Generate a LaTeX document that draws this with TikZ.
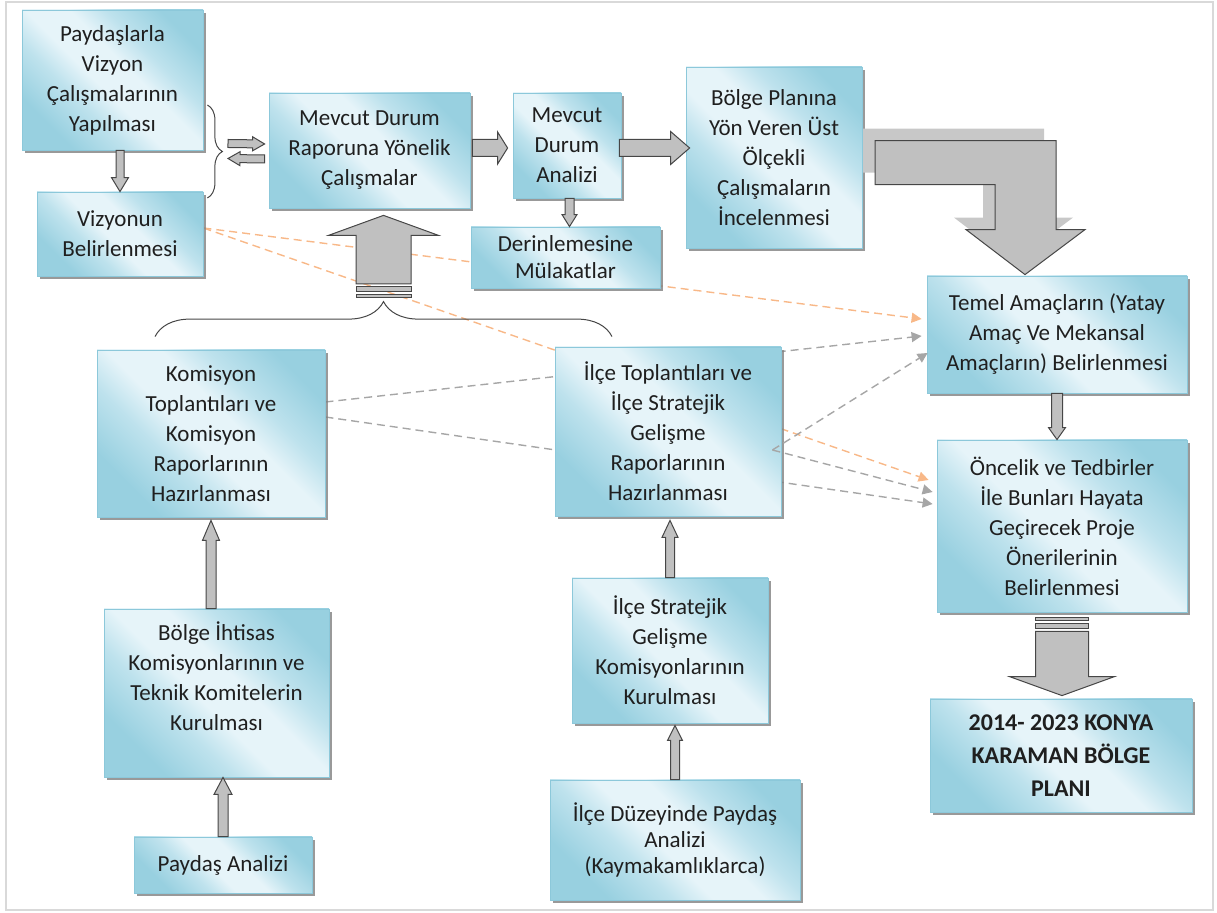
\documentclass[tikz,border=0pt]{standalone}
\usepackage{fontspec}
\setmainfont{Carlito}
\usetikzlibrary{calc,arrows.meta,shadows,decorations.pathreplacing}

\definecolor{boxdark}{RGB}{152,208,224}
\definecolor{boxmid}{RGB}{190,226,237}
\definecolor{boxlight}{RGB}{230,244,249}
\definecolor{boxline}{RGB}{140,200,218}
\definecolor{arrfill}{RGB}{192,192,192}
\definecolor{arrshade}{RGB}{200,200,200}
\definecolor{arrline}{RGB}{70,70,70}
\definecolor{dashorange}{RGB}{248,184,136}
\definecolor{dashgray}{RGB}{166,166,166}
\definecolor{framegray}{RGB}{217,217,217}

\pgfdeclarehorizontalshading{boxshade}{100bp}{color(0bp)=(boxdark); color(26bp)=(boxdark);
  color(38bp)=(boxmid); color(46bp)=(boxlight); color(56bp)=(boxlight); color(64bp)=(boxmid);
  color(76bp)=(boxdark); color(100bp)=(boxdark)}

\pgfdeclarelayer{bg}
\pgfsetlayers{bg,main}

% block arrow: from, to, shaft half width, head half width, head length
\newcommand{\blockarr}[5]{%
  \draw[blockarrow] let \p1=(#1), \p2=(#2),
    \n1={atan2(\y2-\y1,\x2-\x1)}, \n2={veclen(\x2-\x1,\y2-\y1)} in
    ($(\p1)+({\n1+90}:#3)$) -- ++(\n1:{\n2-#5}) -- ++({\n1+90}:{#4-#3})
    -- (\p2) -- ($(\p2)+({\n1+180}:#5)+({\n1-90}:#4)$) -- ++({\n1+90}:{#4-#3})
    -- ($(\p1)+({\n1-90}:#3)$) -- cycle;}
% the two bars behind a striped arrow: tail, half width, side (1 below, -1 above)
\newcommand{\tailbars}[3]{%
  \draw[blockarrow] ($(#1)+(-#2,#3*3)$) rectangle ($(#1)+(#2,#3*8)$);
  \draw[blockarrow] ($(#1)+(-#2,#3*11)$) rectangle ($(#1)+(#2,#3*14)$);}

\begin{document}
\begin{tikzpicture}[x=0.5pt, y=-0.5pt,
  box/.style={draw=boxline, line width=0.4pt, shading=boxshade, shading angle=45,
    drop shadow={shadow xshift=1.5pt, shadow yshift=-1.5pt, fill=black!50, opacity=0.8},
    align=center, text=black!88, font=\fontsize{11.5}{15}\selectfont, inner sep=2pt},
  sz/.style 2 args={minimum width=#1*0.5pt, minimum height=#2*0.5pt},
  blockarrow/.style={draw=arrline, line width=0.5pt, fill=arrfill},
  lightdash/.style={dash pattern=on 4pt off 2.5pt, line width=0.7pt},
  orangearr/.style={lightdash, draw=dashorange, -{Triangle[length=5pt,width=5pt]}},
  grayarr/.style={lightdash, draw=dashgray, -{Triangle[length=5pt,width=5pt]}}]
  \tikzset{bracket/.style={decorate, decoration={brace, amplitude=#1}, draw=arrline, line width=0.5pt}}
  \useasboundingbox (0,0) rectangle (1217,913);
  \draw[framegray, line width=0.75pt] (6,2) rectangle (1213,910);

  \node[box, sz={181}{140}] (vizyon) at (112.5,80) {Paydaşlarla\\Vizyon\\Çalışmalarının\\Yapılması};
  \node[box, sz={166}{84}] (belirle) at (120,234) {Vizyonun\\Belirlenmesi};
  \node[box, sz={201}{115}] (rapor) at (369.5,150.5) {Mevcut Durum\\Raporuna Yönelik\\Çalışmalar};
  \node[box, sz={108}{105}] (analiz) at (567,145.5) {Mevcut\\Durum\\Analizi};
  \node[box, sz={189}{61}, font=\fontsize{11.5}{13.5}\selectfont] (mulakat) at (565.5,257.5) {Derinlemesine\\Mülakatlar};
  \node[box, sz={176}{181}] (ustolcek) at (774,157.5) {Bölge Planına\\Yön Veren Üst\\Ölçekli\\Çalışmaların\\İncelenmesi};
  \node[box, sz={260}{117}] (temel) at (1057,334.5) {Temel Amaçların (Yatay\\Amaç Ve Mekansal\\Amaçların) Belirlenmesi};
  \node[box, sz={250}{172}] (oncelik) at (1062,526) {Öncelik ve Tedbirler\\İle Bunları Hayata\\Geçirecek Proje\\Önerilerinin\\Belirlenmesi};
  \node[box, sz={262}{113}, font=\fontsize{12}{16.5}\selectfont\bfseries] (plan) at (1061,755.5) {2014- 2023 KONYA\\KARAMAN BÖLGE\\PLANI};
  \node[box, sz={228}{167}] (komisyon) at (211,433.5) {Komisyon\\Toplantıları ve\\Komisyon\\Raporlarının\\Hazırlanması};
  \node[box, sz={226}{169}] (ilcetop) at (668,431.5) {İlçe Toplantıları ve\\İlçe Stratejik\\Gelişme\\Raporlarının\\Hazırlanması};
  \node[box, sz={225}{168}, text depth=17pt] (ihtisas) at (216.5,693) {Bölge İhtisas\\Komisyonlarının ve\\Teknik Komitelerin\\Kurulması};
  \node[box, sz={178}{56}] (paydas) at (223,865) {Paydaş Analizi};
  \node[box, sz={196}{145}] (ilcekom) at (670,650.5) {İlçe Stratejik\\Gelişme\\Komisyonlarının\\Kurulması};
  \node[box, sz={250}{120}, font=\fontsize{11.5}{13}\selectfont] (ilceduz) at (675,840) {İlçe Düzeyinde Paydaş\\Analizi\\(Kaymakamlıklarca)};

  % dashed links running behind the boxes
  \begin{pgfonlayer}{bg}
    \draw[orangearr] ($(belirle.east)+(0,-6)$) -- ($(temel.west)+(-5,-15.5)$);
    \draw[orangearr] ($(belirle.east)+(0,-6)$) -- ($(oncelik.west)+(-8,-46)$);
    \draw[grayarr] ($(komisyon.east)+(0,-31.5)$) -- ($(temel.west)+(-5,1.5)$);
    \draw[grayarr] ($(komisyon.east)+(0,-16.5)$) -- ($(oncelik.west)+(-4,-22)$);
  \end{pgfonlayer}
  \draw[grayarr] ($(ilcetop.east)+(-9,18.5)$) -- ($(temel.west)+(1,18.5)$);
  \draw[grayarr] ($(ilcetop.east)+(-9,18.5)$) -- ($(oncelik.west)+(-4,-34)$);

  % braces
  \draw[bracket=7.5pt] ($(vizyon.east)+(4,25)$) -- ($(belirle.east)+(4,-36)$);
  \coordinate (vbrace) at (222,152);
  \draw[bracket=17.5pt] ($(komisyon.north)+(-56,-13)$) -- ($(ilcetop.north)+(-56,-10)$);
  \coordinate (hbrace) at (383.5,302);

  \blockarr{vizyon.south -| belirle.north}{belirle.north}{2pt}{4.25pt}{7pt}
  \blockarr{$(vbrace)+(6,-8.5)$}{$(rapor.west)+(-4,-6.5)$}{2pt}{3.5pt}{6pt}
  \blockarr{$(rapor.west)+(-4,8.5)$}{$(vbrace)+(6,6.5)$}{2pt}{3.5pt}{6pt}
  \blockarr{$(rapor.east)+(2,-2.5)$}{$(analiz.west)+(-5,2.5)$}{4.25pt}{8pt}{5pt}
  \blockarr{$(analiz.east)+(-2,2.5)$}{$(ustolcek.west)+(4,-9.5)$}{4.25pt}{8.25pt}{9.5pt}
  \blockarr{$(analiz.south)+(2.5,0)$}{$(analiz.south |- mulakat.north)+(2.5,0)$}{2.25pt}{3.75pt}{6pt}
  \blockarr{$(hbrace)+(0,-18)$}{$(rapor.south)+(14,7)$}{13.75pt}{27.5pt}{10pt}
  \tailbars{$(hbrace)+(0,-18)$}{27.5}{1}
  \blockarr{komisyon.south |- ihtisas.north}{$(komisyon.south)+(0,3)$}{2.5pt}{4.25pt}{10pt}
  \blockarr{paydas.north}{paydas.north |- ihtisas.south}{2.5pt}{4.5pt}{8.5pt}
  \blockarr{ilcekom.north}{$(ilcekom.north |- ilcetop.south)+(0,4)$}{2.25pt}{4pt}{8.5pt}
  \blockarr{ilceduz.north}{$(ilceduz.north |- ilcekom.south)+(0,2)$}{2.25pt}{3.75pt}{7.5pt}
  \blockarr{temel.south}{temel.south |- oncelik.north}{2.75pt}{4.25pt}{6pt}
  \blockarr{$(oncelik.south)+(0,19)$}{$(oncelik.south |- plan.north)+(0,-3)$}{13.25pt}{26.25pt}{9.5pt}
  \tailbars{$(oncelik.south)+(0,19)$}{26.5}{-1}

  % bent arrow down to the main aims, with its offset shadow
  \coordinate (bendtip) at ($(temel.north)+(-32,-1)$);
  \fill[arrshade] ($(bendtip)+(-12,-12)$) -- ++(-59,-45) -- ++(29,0) -- ++(0,-45) -- ++(-120,0)
    -- ++(0,-44) -- ++(181,0) -- ++(0,89) -- ++(29,0) -- cycle;
  \draw[blockarrow] (bendtip) -- ++(-59,-45) -- ++(29,0) -- ++(0,-45) -- ++(-120,0)
    -- ++(0,-44) -- ++(181,0) -- ++(0,89) -- ++(29,0) -- cycle;
\end{tikzpicture}
\end{document}
